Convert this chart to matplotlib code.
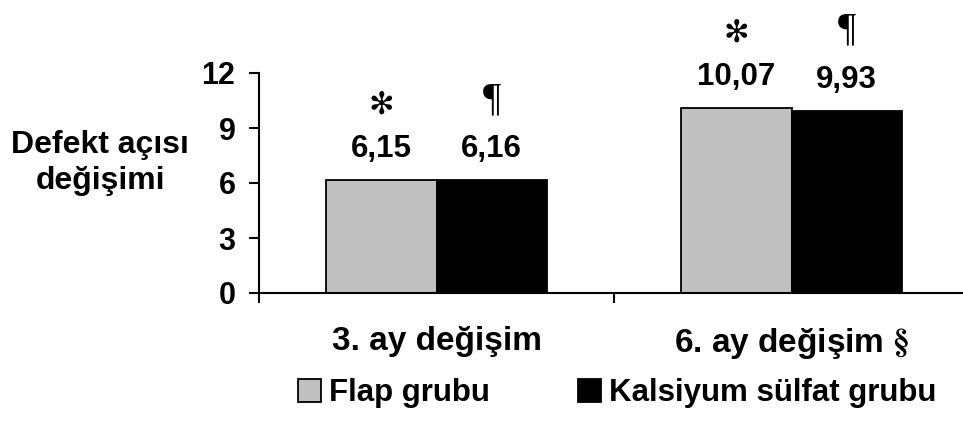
import matplotlib
matplotlib.use('Agg')
import matplotlib.pyplot as plt
from matplotlib.patches import Patch
import numpy as np

# veriler
kategoriler = ['3. ay değişim', r'6. ay değişim $\S$']
flap = [6.15, 10.07]
kalsiyum = [6.16, 9.93]
flap_etiket = ['6,15', '10,07']
kalsiyum_etiket = ['6,16', '9,93']
seri_adlari = ['Flap grubu', 'Kalsiyum sülfat grubu']

plt.rcParams['font.family'] = ['Liberation Sans', 'DejaVu Sans']
plt.rcParams['font.weight'] = 'bold'
plt.rcParams['mathtext.fontset'] = 'stix'

fig = plt.figure(figsize=(9.63, 4.22), dpi=100)
ax = fig.add_axes([259 / 963, 129 / 422, 704 / 963, 220 / 422])

x = np.arange(len(kategoriler))
w = 0.31
b1 = ax.bar(x - w / 2, flap, w, color='#c0c0c0', edgecolor='black', linewidth=1.3)
b2 = ax.bar(x + w / 2, kalsiyum, w, color='black', edgecolor='black', linewidth=1.3)

for bars, etiketler, sembol, sfont, ssize, soff in [(b1, flap_etiket, '✻', 'DejaVu Sans', 22, 54),
                                                    (b2, kalsiyum_etiket, '¶', 'Liberation Serif', 29, 58)]:
    for bar, et in zip(bars, etiketler):
        cx = bar.get_x() + bar.get_width() / 2
        h = bar.get_height()
        ax.annotate(et, (cx, h), xytext=(0, 22.5), textcoords='offset points',
                    ha='center', va='center', fontsize=22.5, fontweight='bold',
                    annotation_clip=False)
        ax.annotate(sembol, (cx, h), xytext=(0, soff), textcoords='offset points',
                    ha='center', va='center', fontsize=ssize, fontweight='normal',
                    family=sfont, annotation_clip=False)

ax.set_xlim(-0.5, 1.483)
ax.set_ylim(0, 12)
ax.set_yticks([0, 3, 6, 9, 12])
ax.tick_params(axis='y', labelsize=22, length=7, width=1.5, pad=10)

ax.set_xticks([-0.5, 0.5])
ax.set_xticklabels([])
ax.set_xticks(x, minor=True)
ax.set_xticklabels(kategoriler, minor=True)
ax.tick_params(axis='x', which='major', length=7, width=1.5)
ax.tick_params(axis='x', which='minor', length=0, labelsize=24, pad=24)

for s in ['top', 'right']:
    ax.spines[s].set_visible(False)
for s in ['left', 'bottom']:
    ax.spines[s].set_linewidth(1.5)

fig.text(100 / 963, 1 - 163 / 422, 'Defekt açısı\ndeğişimi', ha='center', va='center',
         fontsize=23, fontweight='bold', linespacing=1.25)

handles = [Patch(facecolor='#c0c0c0', edgecolor='black', linewidth=1.3),
           Patch(facecolor='black', edgecolor='black', linewidth=1.3)]
fig.legend(handles, seri_adlari, loc='center', bbox_to_anchor=(617 / 963, 29 / 422),
           ncol=2, frameon=False, fontsize=22.5, handlelength=0.75, handleheight=0.75,
           handletextpad=0.25, columnspacing=2.8, borderpad=0)

fig.savefig('out.png', dpi=100)
